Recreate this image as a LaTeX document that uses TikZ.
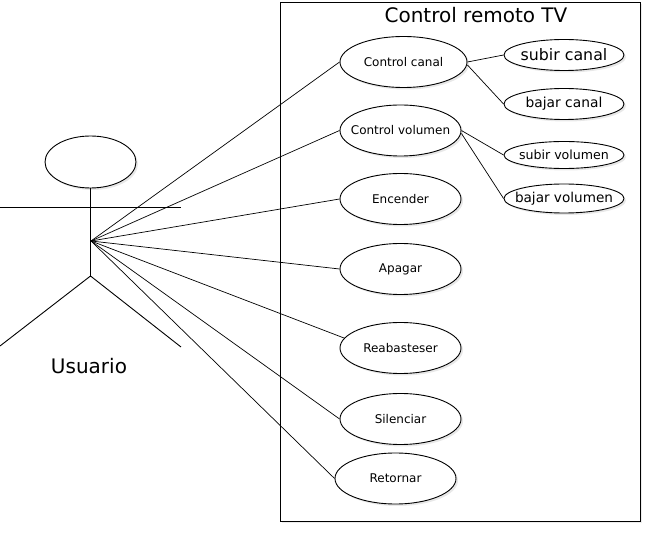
\documentclass[tikz,border=0pt]{standalone}
\usepackage{fontspec}
\setmainfont{DejaVu Sans}
\usetikzlibrary{shapes.geometric,shadows}
\tikzset{
  uc/.style={ellipse, draw=black, line width=0.9pt, fill=white, inner sep=0pt,
    minimum width=121pt, minimum height=51pt,
    drop shadow={opacity=0.18, shadow xshift=2pt, shadow yshift=-2pt}},
  ucl/.style={label={[font=\fontsize{12}{14}\selectfont, inner sep=0pt]center:#1}},
  sub/.style={ellipse, draw=black, line width=0.9pt, fill=white, inner sep=0pt,
    minimum width=120pt, minimum height=30pt,
    drop shadow={opacity=0.18, shadow xshift=2pt, shadow yshift=-2pt}},
  link/.style={draw=black, line width=0.7pt},
  fig/.style={draw=black, line width=0.9pt},
  big/.style={font=\fontsize{20}{24}\selectfont}
}
\begin{document}
\begin{tikzpicture}[x=1pt,y=-1pt]
\useasboundingbox[fill=white] (0,0) rectangle (654,534);
% system boundary
\node[draw=black, line width=0.9pt, minimum width=360pt, minimum height=519pt, inner sep=0pt,
  drop shadow={opacity=0.15, shadow xshift=2pt, shadow yshift=-2pt}, fill=white] (sys) at (460,261.5) {};
\node[big] (title) at (476,15) {Control remoto TV};
% actor
\node[ellipse, draw=black, line width=0.9pt, fill=white, inner sep=0pt, minimum width=91pt, minimum height=52pt,
  drop shadow={opacity=0.18, shadow xshift=2pt, shadow yshift=-2pt}] (head) at (90.5,162) {};
\coordinate (hip) at (90.5,276);
\coordinate (armL) at (0,207);
\coordinate (armR) at (181,207);
\coordinate (legL) at (0,346);
\coordinate (legR) at (181,347);
\coordinate (hand) at (91,241);
\draw[fig] (head.south) -- (hip);
\draw[fig] (armL) -- (armR);
\draw[fig] (legL) -- (hip) -- (legR);
\node[big, fill=white, inner sep=1pt] (usuario) at (89,366) {Usuario};
% use cases
\node[uc, minimum width=127pt, ucl={Control canal}] (canal) at (403.5,62) {};
\node[uc, ucl={Control volumen}] (vol) at (400.5,130.5) {};
\node[uc, ucl={Encender}] (enc) at (400.5,199) {};
\node[uc, ucl={Apagar}] (apa) at (400.5,269) {};
\node[uc, ucl={Reabasteser}] (rea) at (400.5,348) {};
\node[uc, ucl={Silenciar}] (sil) at (400.5,419) {};
\node[uc, ucl={Retornar}] (ret) at (395.5,478.5) {};
% sub use cases
\node[sub, minimum height=31pt, label={[font=\fontsize{15.8}{18}\selectfont, inner sep=0pt]center:subir canal}] (subc) at (564,55) {};
\node[sub, minimum height=31pt, label={[font=\fontsize{13.8}{16}\selectfont, inner sep=0pt]center:bajar canal}] (bajc) at (564,104) {};
\node[sub, minimum height=27pt, label={[font=\fontsize{12.6}{15}\selectfont, inner sep=0pt]center:subir volumen}] (subv) at (564,155) {};
\node[sub, minimum height=29pt, label={[font=\fontsize{13.6}{16}\selectfont, inner sep=0pt]center:bajar volumen}] (bajv) at (564,198.5) {};
% connectors
\foreach \t in {canal,vol,enc,apa,sil,ret}{
  \draw[link] (hand) -- (\t.west);
}
\draw[link] (hand) -- (rea.170);
\draw[link] (canal.east) -- (subc.west);
\draw[link] ([yshift=-3pt]canal.east) -- (bajc.west);
\draw[link] (vol.east) -- (subv.west);
\draw[link] ([yshift=-3pt]vol.east) -- (bajv.west);
\end{tikzpicture}
\end{document}
